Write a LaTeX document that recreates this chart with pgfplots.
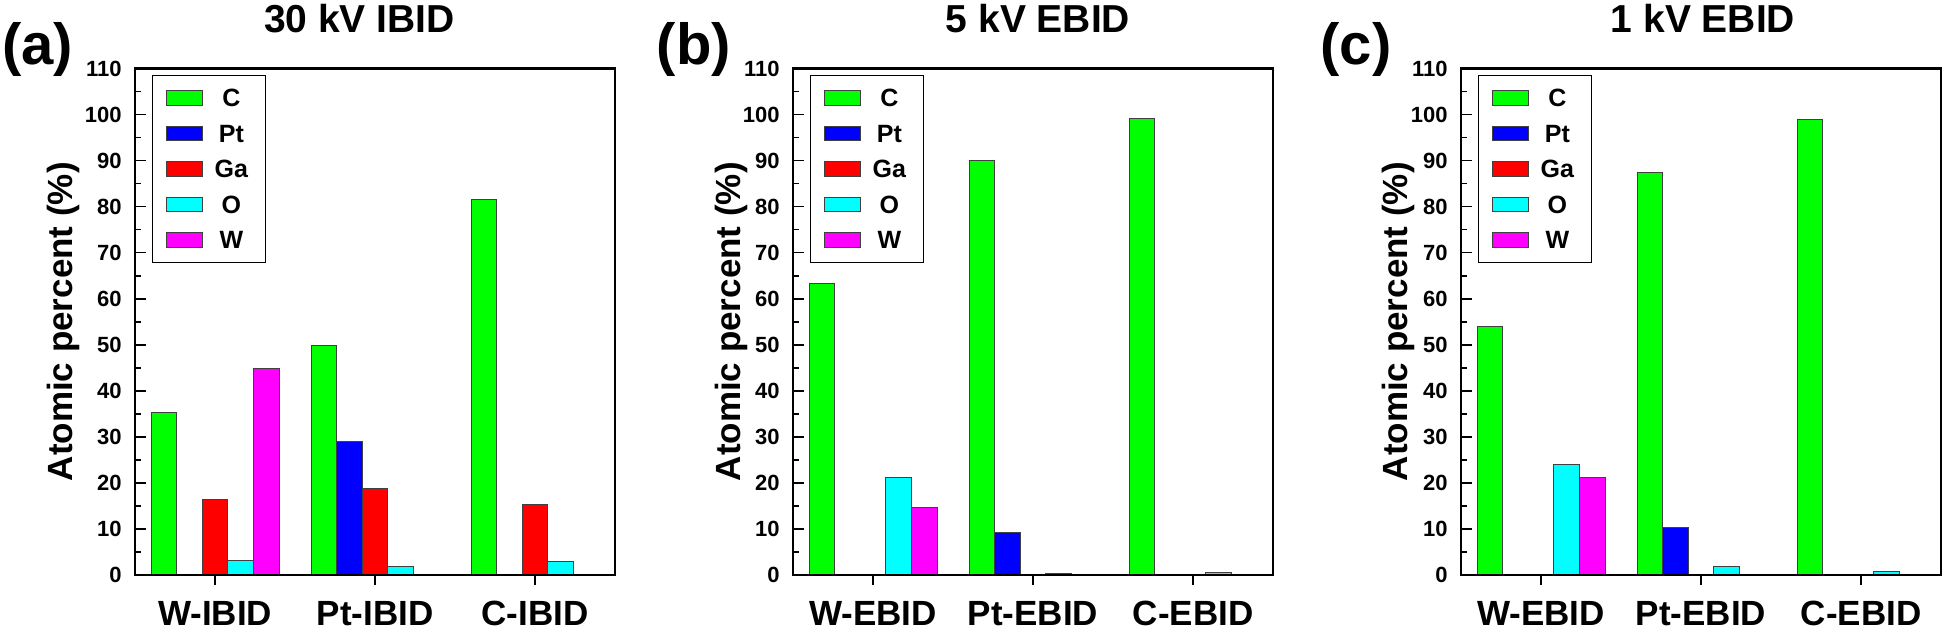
\documentclass[border=0pt]{standalone}
\usepackage{pgfplots}
\pgfplotsset{compat=1.18}
\usepackage{pgfplotstable}
\usepackage{fontspec}
\setmainfont{Liberation Sans}

\definecolor{cC}{RGB}{0,255,0}
\definecolor{cPt}{RGB}{0,0,255}
\definecolor{cGa}{RGB}{255,0,0}
\definecolor{cO}{RGB}{0,255,255}
\definecolor{cW}{RGB}{255,0,255}

\pgfplotstableread{
x C Pt Ga O W
0 35.3 0 16.4 3.2 44.8
1 49.9 29.1 18.7 1.9 0
2 81.5 0 15.4 2.9 0
}\dataA
\pgfplotstableread{
x C Pt Ga O W
0 63.3 0 0 21.2 14.7
1 90.0 9.3 0 0.3 0
2 99.1 0 0 0.5 0
}\dataB
\pgfplotstableread{
x C Pt Ga O W
0 54.0 0 0 24.1 21.2
1 87.4 10.4 0 1.9 0
2 98.9 0 0 0.8 0
}\dataC

\pgfplotsset{
  panel/.style={
    scale only axis, width=240pt, height=253.25pt,
    xmin=-0.5, xmax=2.5, ymin=0, ymax=110,
    ybar, bar width=0.16,
    axis on top,
    xtick={0,1,2}, ytick={0,10,...,110}, minor y tick num=1,
    xtick pos=left, ytick pos=left,
    tick align=inside,
    major tick length=5.5pt, minor tick length=3pt,
    every tick/.style={black, line width=0.8pt},
    every major x tick/.append style={yshift=-5pt},
    axis line style={line width=1.3pt},
    /pgf/number format/assume math mode=true,
    xticklabel style={font=\bfseries\fontsize{17.5}{19}\selectfont, inner sep=0pt, anchor=north, yshift=-13pt},
    yticklabel style={font=\bfseries\fontsize{11}{12}\selectfont, inner sep=0pt, xshift=-6.5pt},
    ylabel={Atomic percent (\%)},
    legend style={at={(0.035,0.987)}, anchor=north west, draw=black, line width=0.6pt, fill=white,
      inner xsep=7pt, inner ysep=7pt,
      row sep=9.25pt, column sep=4pt,
      nodes={inner sep=0pt, text height=8.5pt, text depth=0pt}},
  },
  bars/.style={draw=black!75, line width=0.5pt,
    /pgfplots/legend image code/.code={\draw[##1, line width=0.5pt] (0pt,-3.6pt) rectangle (18pt,3.65pt);}},
}

\newcommand{\lbl}[1]{\makebox[20pt]{\bfseries\fontsize{12.5}{14}\selectfont #1}}

\begin{document}
\begin{tikzpicture}
\useasboundingbox (0,0) rectangle (973pt,315.5pt);

% (a)
\begin{axis}[panel, at={(67.5pt,28pt)}, anchor=south west,
  xticklabels={W-IBID,Pt-IBID,C-IBID},
  ylabel style={font=\bfseries\fontsize{17.5}{20}\selectfont, at={(axis description cs:-0.149,0.5)}, anchor=center}]
\addplot[bars, fill=cC, bar shift=-0.32] table[x=x,y=C]{\dataA};
\addplot[bars, fill=cPt, bar shift=-0.16] table[x=x,y=Pt]{\dataA};
\addplot[bars, fill=cGa, bar shift=0] table[x=x,y=Ga]{\dataA};
\addplot[bars, fill=cO, bar shift=0.16] table[x=x,y=O]{\dataA};
\addplot[bars, fill=cW, bar shift=0.32] table[x=x,y=W]{\dataA};
\legend{\lbl{C},\lbl{Pt},\lbl{Ga},\lbl{O},\lbl{W}}
\end{axis}

% (b)
\begin{axis}[panel, at={(396.5pt,28pt)}, anchor=south west,
  xticklabels={W-EBID,Pt-EBID,C-EBID},
  ylabel style={font=\bfseries\fontsize{17.5}{20}\selectfont, at={(axis description cs:-0.129,0.5)}, anchor=center}]
\addplot[bars, fill=cC, bar shift=-0.32] table[x=x,y=C]{\dataB};
\addplot[bars, fill=cPt, bar shift=-0.16] table[x=x,y=Pt]{\dataB};
\addplot[bars, fill=cGa, bar shift=0] table[x=x,y=Ga]{\dataB};
\addplot[bars, fill=cO, bar shift=0.16] table[x=x,y=O]{\dataB};
\addplot[bars, fill=cW, bar shift=0.32] table[x=x,y=W]{\dataB};
\legend{\lbl{C},\lbl{Pt},\lbl{Ga},\lbl{O},\lbl{W}}
\end{axis}

% (c)
\begin{axis}[panel, at={(730.5pt,28pt)}, anchor=south west,
  xticklabels={W-EBID,Pt-EBID,C-EBID},
  ylabel style={font=\bfseries\fontsize{17.5}{20}\selectfont, at={(axis description cs:-0.131,0.5)}, anchor=center}]
\addplot[bars, fill=cC, bar shift=-0.32] table[x=x,y=C]{\dataC};
\addplot[bars, fill=cPt, bar shift=-0.16] table[x=x,y=Pt]{\dataC};
\addplot[bars, fill=cGa, bar shift=0] table[x=x,y=Ga]{\dataC};
\addplot[bars, fill=cO, bar shift=0.16] table[x=x,y=O]{\dataC};
\addplot[bars, fill=cW, bar shift=0.32] table[x=x,y=W]{\dataC};
\legend{\lbl{C},\lbl{Pt},\lbl{Ga},\lbl{O},\lbl{W}}
\end{axis}

% titles and panel labels
\node[font=\bfseries\fontsize{19.5}{22}\selectfont, inner sep=0pt, anchor=center] at (179.75pt,306.25pt) {30 kV IBID};
\node[font=\bfseries\fontsize{19.5}{22}\selectfont, inner sep=0pt, anchor=center] at (519pt,306.25pt) {5 kV EBID};
\node[font=\bfseries\fontsize{19.5}{22}\selectfont, inner sep=0pt, anchor=center] at (851.5pt,306.25pt) {1 kV EBID};
\node[font=\bfseries\fontsize{29}{32}\selectfont, inner sep=0pt, anchor=center] at (18.75pt,290.5pt) {(a)};
\node[font=\bfseries\fontsize{29}{32}\selectfont, inner sep=0pt, anchor=center] at (347pt,290.5pt) {(b)};
\node[font=\bfseries\fontsize{29}{32}\selectfont, inner sep=0pt, anchor=center] at (678pt,290.5pt) {(c)};
\end{tikzpicture}
\end{document}
